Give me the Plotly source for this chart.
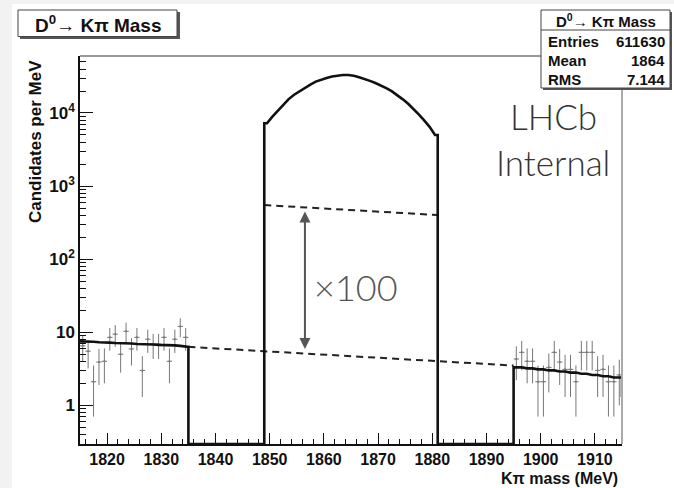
import numpy as np
import plotly.graph_objects as go

# ---------------- data ----------------
# sideband bins (1 MeV wide), measured candidates per MeV and their errors
lo_mass = [1815.5 + i for i in range(20)]
lo_counts = [6.5, 5.5, 2.1, 3.9, 4.0, 8.5, 9.4, 5.0, 10.3, 5.9,
             8.5, 3.0, 8.0, 6.9, 6.9, 8.5, 4.0, 8.0, 12.0, 8.5]
lo_err = [2.5, 2.3, 1.4, 2.0, 2.0, 2.9, 3.1, 2.2, 3.2, 2.4,
          2.9, 1.7, 2.8, 2.6, 2.6, 2.9, 2.0, 2.8, 3.5, 2.9]

hi_mass = [1895.5 + i for i in range(20)]
hi_counts = [4.3, 5.3, 4.0, 4.0, 2.1, 2.1, 3.3, 5.3, 3.9, 3.1,
             3.1, 2.1, 5.3, 5.3, 5.3, 3.0, 3.1, 2.1, 2.1, 2.6]
hi_err = [2.1, 2.3, 2.0, 2.0, 1.4, 1.4, 1.8, 2.3, 2.0, 1.8,
          1.8, 1.4, 2.3, 2.3, 2.3, 1.7, 1.8, 1.4, 1.4, 1.6]

# smooth sideband model (candidates per MeV)
lo_model = [7.5, 7.4, 7.4, 7.3, 7.3, 7.2, 7.1, 7.1, 7.0, 7.0,
            6.9, 6.9, 6.8, 6.8, 6.7, 6.7, 6.6, 6.6, 6.5, 6.3]
hi_model = [3.3, 3.3, 3.2, 3.2, 3.1, 3.1, 3.0, 3.0, 2.9, 2.9,
            2.8, 2.8, 2.7, 2.7, 2.6, 2.6, 2.5, 2.5, 2.4, 2.4]
hi_tail = 1.3

# signal window bins
sig_mass = [1849.5 + i for i in range(32)]
sig_counts = [7240, 8910, 10700, 12900, 15500, 17800, 19950, 22400,
              24500, 26900, 28800, 30200, 31600, 32400, 33100, 33100,
              32400, 30900, 29500, 27500, 25700, 24000, 21900, 19950,
              17800, 15500, 13500, 11500, 9550, 7940, 6460, 5010]

window_lo = [1815, 1835]
window_sig = [1849, 1881]
window_hi = [1895, 1915]

# background level under the peak, and the scale factor drawn above it
bkg_mass = [1835, 1895]
bkg_level = [6.3, 3.5]
bkg_scale = 100

x_range = [1815, 1915]
y_log_range = [-0.53, 4.78]

stats_rows = [("Entries", "611630"), ("Mean", "1864"), ("RMS", "7.144")]
hist_title = "D<sup>0</sup>→ Kπ Mass"

# ---------------- layout geometry ----------------
W, H = 674, 488
ML, MR, MT, MB = 80, 52, 56, 44
PW, PH = W - ML - MR, H - MT - MB


def px(x):
    return (x - ML) / PW


def py(y):
    return (H - MB - y) / PH


floor = 10 ** y_log_range[0]

# thick histogram outline: sidebands, empty gaps on the floor, signal peak
line_x = ([window_lo[0]] + lo_mass + [window_lo[1], window_lo[1]]
          + [window_sig[0], window_sig[0]] + sig_mass + [window_sig[1], window_sig[1]]
          + [window_hi[0], window_hi[0]] + hi_mass + [window_hi[1], window_hi[1]])
line_y = ([lo_model[0]] + lo_model + [lo_model[-1], floor]
          + [floor, sig_counts[0]] + sig_counts + [sig_counts[-1], floor]
          + [floor, hi_model[0]] + hi_model + [hi_model[-1], hi_tail])


# background line, and the same line scaled into the signal window
def bkg_at(m):
    return 10 ** np.interp(m, bkg_mass, np.log10(bkg_level))


up_x = window_sig
up_y = [bkg_scale * bkg_at(m) for m in up_x]

FONT = "Liberation Sans, Arial, sans-serif"
THIN = "Lato, Open Sans, sans-serif"

fig = go.Figure()

pts_style = dict(mode="markers", marker=dict(size=2, color="#777"), showlegend=False,
                 hoverinfo="skip")
fig.add_trace(go.Scatter(
    x=lo_mass, y=lo_counts,
    error_y=dict(type="data", array=lo_err, color="#777", thickness=1, width=0),
    error_x=dict(type="constant", value=0.5, color="#777", thickness=1, width=0),
    **pts_style))
fig.add_trace(go.Scatter(
    x=hi_mass, y=hi_counts,
    error_y=dict(type="data", array=hi_err, color="#777", thickness=1, width=0),
    error_x=dict(type="constant", value=0.5, color="#777", thickness=1, width=0),
    **pts_style))

fig.add_trace(go.Scatter(x=bkg_mass, y=bkg_level, mode="lines",
                         line=dict(color="#222", width=2, dash="7px,5px"),
                         showlegend=False, hoverinfo="skip"))
fig.add_trace(go.Scatter(x=up_x, y=up_y, mode="lines",
                         line=dict(color="#222", width=2, dash="7px,5px"),
                         showlegend=False, hoverinfo="skip"))

fig.add_trace(go.Scatter(x=line_x, y=line_y, mode="lines",
                         line=dict(color="#111", width=2.6),
                         showlegend=False, hoverinfo="skip"))

# double arrow between background and scaled background
arrow_m = 1856.5
fig.add_annotation(x=arrow_m, y=np.log10(bkg_scale * bkg_at(arrow_m)),
                   ax=arrow_m, ay=np.log10(bkg_at(arrow_m)),
                   xref="x", yref="y", axref="x", ayref="y",
                   showarrow=True, arrowhead=2, startarrowhead=2,
                   arrowside="end+start", arrowsize=1.1, startarrowsize=1.1,
                   arrowwidth=2, arrowcolor="#555", standoff=4, startstandoff=3,
                   text="")


def label(x, y, text, font, xanchor="center", **kw):
    fig.add_annotation(x=px(x), y=py(y), xref="paper", yref="paper",
                       text=text, showarrow=False, xanchor=xanchor,
                       yanchor="middle", font=font, **kw)


fig.add_annotation(x=1866, y=np.log10(42), xref="x", yref="y",
                   xanchor="center", yanchor="middle",
                   text="×" + str(bkg_scale), showarrow=False,
                   font=dict(family=THIN, size=36, color="#555", weight=300))

label(553, 116, "LHCb", dict(family=THIN, size=35, color="#333", weight=300))
label(553, 162, "Internal", dict(family=THIN, size=35, color="#333", weight=300))

BOLD = dict(family=FONT, color="#111", weight="bold")

# axis titles
label(620, 479, "Kπ mass (MeV)", dict(BOLD, size=16), xanchor="right")
label(35, 142, "Candidates per MeV", dict(BOLD, size=17), textangle=-90)

shapes = []
# canvas
shapes.append(dict(type="rect", xref="paper", yref="paper", layer="below",
                   x0=px(12), x1=px(W + 5), y0=py(4), y1=py(H + 5),
                   fillcolor="white", line=dict(width=0)))
# grey top and right frame
shapes.append(dict(type="line", xref="paper", yref="paper",
                   x0=0, x1=1, y0=1, y1=1, line=dict(color="#999", width=2)))
shapes.append(dict(type="line", xref="paper", yref="paper",
                   x0=1, x1=1, y0=0, y1=1, line=dict(color="#aaa", width=2)))

# title pave
shapes.append(dict(type="rect", xref="paper", yref="paper",
                   x0=px(20), x1=px(180), y0=py(39), y1=py(12),
                   fillcolor="#555", line=dict(width=0)))
shapes.append(dict(type="rect", xref="paper", yref="paper",
                   x0=px(18), x1=px(177), y0=py(36.5), y1=py(10),
                   fillcolor="white", line=dict(color="#444", width=1)))
label(98, 24, hist_title, dict(BOLD, size=19))

# statistics box
shapes.append(dict(type="rect", xref="paper", yref="paper",
                   x0=px(543), x1=px(672), y0=py(90), y1=py(12),
                   fillcolor="#555", line=dict(width=0)))
shapes.append(dict(type="rect", xref="paper", yref="paper",
                   x0=px(541), x1=px(670), y0=py(88), y1=py(10),
                   fillcolor="white", line=dict(color="#444", width=1)))
shapes.append(dict(type="line", xref="paper", yref="paper",
                   x0=px(541), x1=px(670), y0=py(30), y1=py(30),
                   line=dict(color="#444", width=1)))
label(606, 20, hist_title, dict(BOLD, size=15))
for i, (lab, val) in enumerate(stats_rows):
    yy = 42 + 18.5 * i
    label(546, yy, lab, dict(BOLD, size=15), xanchor="left")
    label(667, yy, val, dict(BOLD, size=15), xanchor="right")

y_major = [1, 10, 100, 1000, 10000]
y_major_text = ["1", "10", "10<sup>2</sup>", "10<sup>3</sup>", "10<sup>4</sup>"]
y_minor = [m * d for d in [0.1, 1, 10, 100, 1000, 10000] for m in range(2, 10)]
x_major = list(range(1820, 1911, 10))
x_minor = list(range(1816, 1915, 2))

fig.update_layout(
    width=W, height=H,
    margin=dict(l=ML, r=MR, t=MT, b=MB),
    paper_bgcolor="#f2f2f2", plot_bgcolor="white",
    shapes=shapes, showlegend=False,
    xaxis=dict(range=x_range, showgrid=False, zeroline=False,
               showline=True, linecolor="#111", linewidth=1.5,
               ticks="inside", ticklen=11, tickcolor="#111",
               tickvals=x_major, ticktext=[str(v) for v in x_major],
               tickfont=dict(BOLD, size=16),
               minor=dict(tickvals=x_minor, ticks="inside", ticklen=5,
                          tickcolor="#111", showgrid=False)),
    yaxis=dict(type="log", range=y_log_range, showgrid=False, zeroline=False,
               showline=True, linecolor="#111", linewidth=1.5,
               ticks="inside", ticklen=13, tickcolor="#111",
               tickvals=y_major, ticktext=y_major_text,
               tickfont=dict(BOLD, size=17),
               minor=dict(tickvals=y_minor, ticks="inside", ticklen=6,
                          tickcolor="#111", showgrid=False)),
)

fig.write_html("out.html")
